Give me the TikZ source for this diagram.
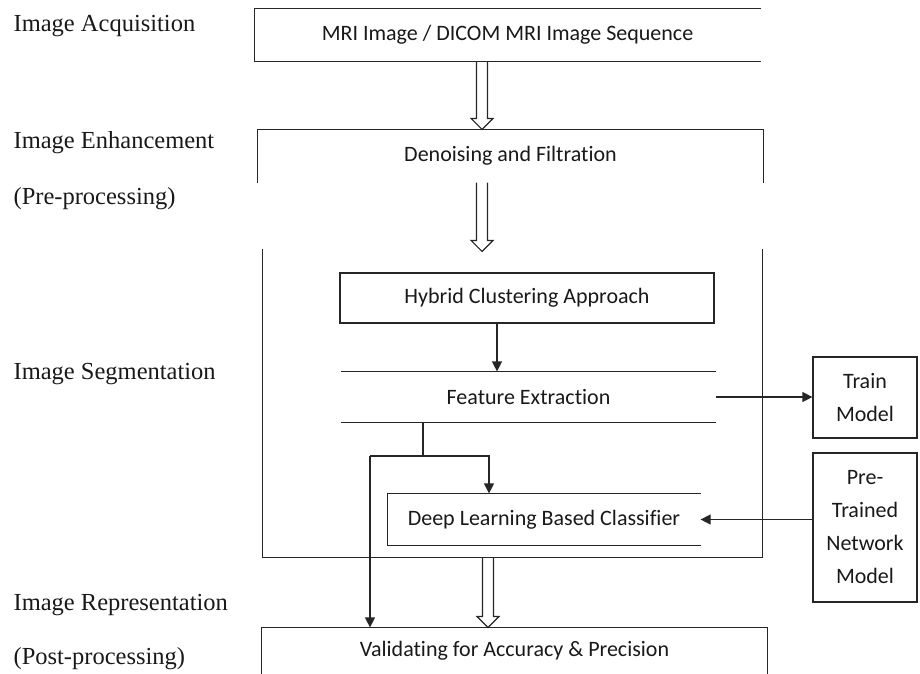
\documentclass[tikz,border=0pt]{standalone}
\usepackage{fontspec}
\setmainfont{Carlito}[Ligatures=NoCommon]
\newfontfamily\lblfont{Liberation Serif}
\usetikzlibrary{arrows.meta,calc}

\begin{document}
\begin{tikzpicture}[x=1pt,y=-1pt,line width=1.2pt,draw=black!85,
      arr/.style={-{Triangle[length=10pt,width=10pt]}},
      hollow/.style={to path={let \p1=(\tikztostart), \p2=(\tikztotarget) in
          (\x1-5.5pt,\y1) -- (\x1-5.5pt,\y2+11pt) -- (\x1-11pt,\y2+11pt) -- (\x1,\y2)
          -- (\x1+11pt,\y2+11pt) -- (\x1+5.5pt,\y2+11pt) -- (\x1+5.5pt,\y1)}},
      stage/.style={inner sep=0pt,text=black!90,font=\fontsize{22}{33}\selectfont},
      lbl/.style={anchor=base west,inner sep=0pt,text=black!90,
        font=\lblfont\fontsize{24.5}{28}\selectfont}]

      \useasboundingbox (0,0) rectangle (920,673);

      \node[lbl] (acq)  at (13,31)  {Image Acquisition};
      \node[lbl] (enh)  at (13,148) {Image Enhancement};
      \node[lbl] (pre)  at (13,204) {(Pre-processing)};
      \node[lbl] (sgl)  at (13,379) {Image Segmentation};
      \node[lbl] (rep)  at (13,610) {Image Representation};
      \node[lbl] (post) at (13,664) {(Post-processing)};

      \node[stage,minimum width=505pt,minimum height=52pt] (mri) at (507.5,35)
      {MRI Image / DICOM MRI Image Sequence};
      \node[stage,minimum width=505pt,minimum height=52pt] (den) at (510.5,156)
      {Denoising and Filtration};
      \node[inner sep=0pt,minimum width=499pt,minimum height=307pt] (seg) at (512.5,403.5) {};
      \node[stage,draw,minimum width=374pt,minimum height=50pt] (hca) at (527,298)
      {Hybrid Clustering Approach};
      \node[stage,minimum width=373pt,minimum height=50pt] (fe) at (528.5,397)
      {Feature Extraction};
      \node[stage,minimum width=312pt,minimum height=51pt] (dlc) at (544,519.5)
      {Deep Learning Based Classifier};
      \node[stage,minimum width=505pt,minimum height=45pt] (val) at (514.5,650.5)
      {Validating for Accuracy \& Precision};
      \node[stage,draw,align=center,minimum width=104pt,minimum height=81pt] (train)
      at (865,397.5) {Train\\Model};
      \node[stage,draw,align=center,minimum width=104pt,minimum height=149pt] (ptn)
      at (865,527.5) {Pre-\\Trained\\Network\\Model};

      % open sides
      \draw (mri.north east) -- (mri.north west) -- (mri.south west) -- (mri.south east);
      \draw (den.south west) -- (den.north west) -- (den.north east) -- (den.south east);
      \draw (seg.north west) -- (seg.south west) -- (seg.south east) -- (seg.north east);
      \draw (fe.north west) -- (fe.north east) (fe.south west) -- (fe.south east);
      \draw (dlc.north east) -- (dlc.north west) -- (dlc.south west) -- (dlc.south east);
      \draw (val.south west) -- (val.north west) -- (val.north east) -- (val.south east);

      \coordinate (ax) at (482,0);
      \coordinate (bx) at (488,0);
      \draw (ax |- mri.south) to[hollow] (ax |- den.north);
      \draw (ax |- den.south) to[hollow] ([yshift=-2pt]ax |- seg.north);
      \draw (bx |- seg.south) to[hollow] (bx |- val.north);

      \coordinate (split) at (423,456);
      \coordinate (lft) at (370,456);
      \coordinate (rgt) at (489,456);

      \draw[arr] ([xshift=-30pt]hca.south) -- ([xshift=-30pt]hca.south |- fe.north);
      \draw[arr] (fe.east) -- (fe.east -| train.west);
      \draw[arr] (ptn.west |- dlc.east) -- (dlc.east);
      \draw (fe.south -| split) -- (split);
      \draw[arr] (lft) -- (lft |- val.north);
      \draw[arr] (lft) -- (rgt) -- (rgt |- dlc.north);
    \end{tikzpicture}
\end{document}
